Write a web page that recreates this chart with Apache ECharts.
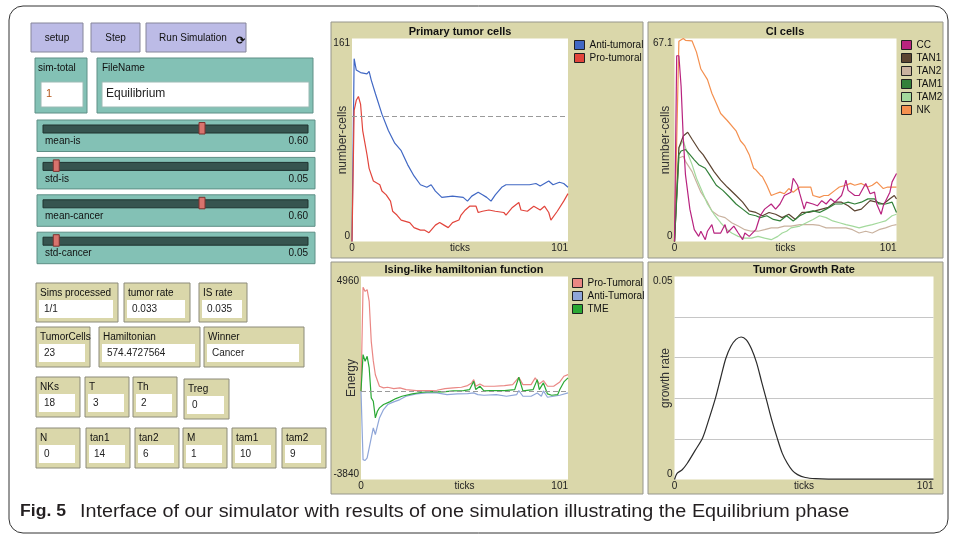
<!DOCTYPE html>
<html>
<head>
<meta charset="utf-8">
<script src="https://cdn.jsdelivr.net/npm/echarts@6/dist/echarts.min.js"></script>
<style>
  html, body { margin: 0; padding: 0; background: #fff; }
  #chart { width: 956px; height: 535px; }
</style>
</head>
<body>
<div id="chart"></div>
<script>
// Primary tumor cells
const antiTicks = [0, 1, 2, 4, 7, 8, 9, 11, 14, 17, 20, 23, 26, 29, 32, 35, 37, 39, 42, 47, 52, 54, 56, 59, 61, 63, 65, 67, 70, 72, 77, 83, 86, 88, 92, 94, 97, 99, 101];
const antiCells = [0, 145, 136, 134, 133, 135, 128, 117, 101, 88, 78, 72, 61, 52, 45, 43, 45, 40, 35, 36, 35, 32, 36, 39, 37, 35, 32, 37, 43, 45, 45, 45, 46, 44, 48, 45, 47, 46, 43];
const proTicks = [0, 1, 2, 3, 4, 5, 7, 8, 10, 13, 14, 16, 18, 19, 21, 23, 25, 27, 29, 32, 34, 36, 39, 41, 43, 45, 47, 50, 51, 53, 55, 58, 59, 61, 64, 67, 71, 72, 75, 78, 79, 82, 85, 88, 90, 92, 93, 96, 99, 101];
const proCells = [0, 104, 112, 115, 109, 88, 69, 58, 48, 45, 40, 37, 32, 24, 21, 17, 16, 15, 11, 9, 9, 7, 13, 15, 13, 11, 15, 17, 21, 25, 28, 28, 23, 24, 25, 24, 23, 21, 27, 31, 25, 24, 28, 25, 28, 23, 17, 24, 32, 38];
const tumorRef = 99;

// CI cells
const ccTicks = [0, 1, 2, 3, 4, 5, 7, 9, 11, 12, 14, 15, 17, 18, 21, 23, 24, 27, 29, 31, 32, 34, 37, 39, 41, 44, 46, 48, 50, 53, 54, 56, 57, 59, 60, 63, 65, 67, 69, 71, 73, 76, 77, 78, 79, 82, 84, 87, 89, 91, 92, 94, 95, 98, 99, 101];
const ccCells = [0, 61.4, 61.4, 51.3, 34, 22, 10.7, 3.9, 1.7, 3.4, 0.6, 3.4, 5.6, 2.8, 2.8, 5.6, 2.8, 5.1, 2.8, 0.6, 2.8, 1.7, 3.9, 8.5, 10.7, 12.4, 10.7, 12.4, 15.2, 16.3, 20.9, 18.6, 15.8, 10.7, 13, 12.4, 11.8, 13.5, 12.4, 14.1, 13, 15.2, 17.5, 20.3, 16.9, 15.2, 15.2, 19.2, 15.8, 16.3, 12.4, 9, 11.8, 16.3, 19.7, 22.5];
const tan1Ticks = [0, 2, 4, 6, 8, 11, 13, 15, 18, 21, 24, 28, 31, 34, 37, 40, 43, 46, 49, 52, 55, 58, 61, 64, 67, 70, 73, 76, 79, 82, 85, 89, 92, 95, 98, 100, 101];
const tan1Cells = [0, 31, 34.9, 36.1, 33.8, 30.4, 28.7, 26.5, 23.1, 20.3, 18, 15.2, 13, 10.1, 9.6, 8.5, 9.6, 9, 7.9, 9, 7.3, 9.6, 9.6, 10.1, 10.7, 11.3, 13, 13, 11.8, 10.1, 10.7, 13.5, 13, 12.4, 14.1, 15.2, 14.1];
const tan2Ticks = [0, 2, 4, 5, 8, 10, 12, 15, 17, 20, 23, 26, 29, 32, 35, 38, 41, 44, 47, 50, 53, 57, 60, 63, 66, 69, 72, 75, 78, 81, 84, 87, 90, 93, 96, 99, 101];
const tan2Cells = [0, 27.6, 28.2, 26.5, 23.1, 19.7, 16.3, 13, 10.1, 8.5, 7.9, 6.2, 5.1, 3.9, 3.4, 3.4, 3.9, 4.5, 4.5, 5.1, 5.1, 5.6, 5.6, 5.6, 5.3, 4.5, 4.5, 4.5, 4.5, 3.9, 2.8, 3.4, 2.8, 3.9, 4.5, 5.3, 5.6];
const tam1Ticks = [0, 2, 3, 5, 7, 9, 11, 14, 16, 19, 22, 25, 28, 31, 34, 37, 39, 42, 45, 48, 51, 54, 57, 60, 63, 66, 69, 73, 76, 79, 82, 85, 88, 91, 93, 96, 99, 101];
const tam1Cells = [0, 28.7, 29.9, 30.4, 28.7, 27, 25.4, 24.2, 22, 18.6, 16.9, 14.7, 12.4, 10.7, 9, 8.5, 7.9, 8.5, 7.3, 6.8, 8.5, 6.8, 8.5, 9.6, 10.1, 9.6, 10.7, 12.4, 12.4, 13, 12.4, 13, 14.1, 14.1, 12.4, 12.4, 13, 9.6];
const tam2Ticks = [0, 2, 4, 5, 8, 10, 12, 15, 18, 21, 24, 26, 29, 32, 35, 38, 41, 44, 47, 49, 51, 53, 57, 60, 63, 66, 69, 72, 75, 78, 81, 84, 87, 90, 93, 96, 99, 101];
const tam2Cells = [0, 31, 33.3, 31, 25.4, 20.9, 17.5, 12.4, 9, 6.2, 3.9, 2.8, 1.7, 1.1, 1.1, 1.7, 1.1, 0.6, 1.7, 2.8, 3.4, 4.5, 5.1, 6.2, 7.3, 8.5, 7.9, 6.8, 6.2, 5.6, 5.1, 4.5, 5.1, 5.6, 6.2, 6.8, 8.5, 9];
const nkTicks = [0, 2, 4, 5, 8, 10, 12, 15, 17, 19, 21, 24, 28, 30, 32, 34, 36, 37, 39, 40, 42, 44, 46, 48, 50, 52, 54, 57, 60, 62, 63, 66, 68, 70, 73, 75, 78, 80, 82, 85, 88, 90, 92, 95, 97, 99, 101];
const nkCells = [0, 66.2, 67.1, 66.5, 66.3, 62.6, 57, 53.5, 49, 45.7, 42.3, 40, 36.6, 33.3, 31.6, 28.7, 24.2, 23.7, 22, 21.4, 18.6, 15.2, 15.8, 16.3, 15.8, 17.5, 16.3, 18, 18, 18, 15.2, 14.6, 15.2, 15.2, 16.9, 18, 18.6, 19.2, 18.6, 19.2, 18, 18.6, 19.7, 17.5, 18, 18, 18];

// Ising-like hamiltonian function
const proHTicks = [0, 1, 2, 3, 4, 5, 6, 7, 9, 11, 13, 16, 19, 22, 27, 32, 37, 41, 45, 49, 52, 54, 55, 56, 58, 60, 65, 70, 74, 77, 79, 83, 85, 87, 89, 91, 94, 97, 99, 101];
const proHEnergy = [0, 4490, 4315, 4387, 3880, 2150, 1300, 700, 202, 130, 159, 101, 130, 58, 14, 14, 29, 101, 130, 159, 231, 346, 490, 202, 303, 202, 202, 231, 274, 592, 274, 274, 563, 303, 447, 202, 202, 390, 635, 707];
const antiHTicks = [0, 1, 2, 3, 4, 5, 6, 7, 8, 9, 11, 13, 16, 19, 22, 27, 32, 37, 42, 47, 52, 55, 57, 60, 66, 71, 76, 77, 79, 83, 86, 88, 89, 91, 94, 97, 101];
const antiHEnergy = [0, -2980, -3016, -2900, -2468, -2035, -1600, -1890, -1530, -1170, -808, -591, -476, -375, -231, -130, -87, -87, -159, -130, -115, -87, -159, -188, -159, -231, -159, 14, -231, -231, -87, -231, 0, -274, -231, -188, -87];
const tmeTicks = [0, 1, 2, 3, 4, 5, 6, 7, 8, 9, 11, 14, 17, 20, 25, 30, 35, 40, 45, 50, 53, 55, 56, 58, 60, 63, 70, 75, 77, 79, 84, 86, 87, 89, 91, 93, 96, 97, 99, 101];
const tmeEnergy = [0, 1573, 1284, 1500, 996, -303, -447, -1168, -880, -736, -591, -476, -332, -231, -130, -58, -29, -43, 0, 14, 58, 418, 58, 202, 0, 14, 14, 58, 592, 0, 58, 490, 58, 346, -130, -188, -159, 58, 390, 563];

// Tumor growth rate
const growthTicks = [0, 1, 3, 5, 8, 11, 13, 16, 18, 20, 22, 24, 26, 28, 30, 32, 34, 36, 38, 40, 42, 44, 46, 48, 51, 55, 60, 70, 101];
const growthRate = [0, 0.0015, 0.0024, 0.004, 0.0071, 0.0103, 0.014, 0.0201, 0.025, 0.0298, 0.0328, 0.0345, 0.0351, 0.0344, 0.0322, 0.0288, 0.024, 0.0193, 0.0145, 0.0103, 0.0065, 0.004, 0.0022, 0.0012, 0.0005, 0.0002, 0.0001, 0.0001, 0.0001];

// interface widgets
const buttonNames = ['setup', 'Step', 'Run Simulation'];
const sliderNames = ['mean-is', 'std-is', 'mean-cancer', 'std-cancer'];
const sliderValues = [0.6, 0.05, 0.6, 0.05];
const monitorNames = ['Sims processed', 'tumor rate', 'IS rate', 'TumorCells', 'Hamiltonian', 'Winner', 'NKs', 'T', 'Th', 'Treg', 'N', 'tan1', 'tan2', 'M', 'tam1', 'tam2'];
const monitorValues = ['1/1', '0.033', '0.035', '23', '574.4727564', 'Cancer', '18', '3', '2', '0', '0', '14', '6', '1', '10', '9'];

const FONT = '"Liberation Sans", Arial, sans-serif';
const pts = (xs, ys) => xs.map((x, i) => [x, ys[i]]);

const ui = [];
const box = (x, y, w, h, fill, stroke, z) => ui.push({
  type: 'rect', z: z || 0, shape: { x, y, width: w, height: h },
  style: { fill, stroke, lineWidth: 1 },
});
const txt = (x, y, text, size, color, align, weight, sx) => ui.push({
  type: 'text', z: 1, x, y, scaleX: sx || 1,
  style: { text, font: `${weight || 'normal'} ${size}px ${FONT}`, fill: color, align: align || 'left', verticalAlign: 'middle' },
});

// outer frame and plot panels
ui.push({ type: 'rect', z: -2, shape: { x: 9, y: 6, width: 939, height: 527, r: 14 }, style: { fill: 'none', stroke: '#333', lineWidth: 1 } });
box(331, 22, 312, 236, '#dad7aa', '#96968c', -1);
box(648, 22, 295, 236, '#dad7aa', '#96968c', -1);
box(331, 262, 312, 232, '#dad7aa', '#96968c', -1);
box(648, 262, 295, 232, '#dad7aa', '#96968c', -1);

// buttons
[[31, 23, 52, 29], [91, 23, 49, 29], [146, 23, 100, 29]].forEach(([x, y, w, h], i) => {
  box(x, y, w, h, '#bcbbe6', '#86869a');
  txt(i === 2 ? x + 47 : x + w / 2, y + h / 2 + 1, buttonNames[i], 10, '#111', 'center');
});
txt(240, 41, '\u27F3', 11, '#111', 'center', 'bold');

// inputs
box(35, 58, 52, 55, '#83c1b5', '#5e8f86');
txt(38, 68, 'sim-total', 10, '#111');
box(41, 82, 42, 25, '#fff', '#9bbab4');
txt(46, 94, '1', 11, '#b4571c');
box(97, 58, 216, 55, '#83c1b5', '#5e8f86');
txt(102, 68, 'FileName', 10, '#111');
box(102, 82, 207, 25, '#fff', '#9bbab4');
txt(106, 94, 'Equilibrium', 12, '#222');

// sliders
sliderNames.forEach((name, i) => {
  const y = 120 + i * 37.4;
  box(37, y, 278, 31.5, '#83c1b5', '#5e8f86');
  box(43, y + 5, 265, 8, '#36544f', '#1e322f');
  const cx = 43 + sliderValues[i] * 265;
  box(cx - 3, y + 2.5, 6, 11.5, '#d8736d', '#7d3330');
  txt(45, y + 21.5, name, 10, '#111');
  txt(308, y + 21.5, sliderValues[i].toFixed(2), 10, '#111', 'right');
});

// monitors
const monitorBoxes = [[36, 283, 82, 39], [124, 283, 66, 39], [199, 283, 48, 39], [36, 327, 54, 40], [99, 327, 101, 40], [204, 327, 100, 40],
  [36, 377, 44, 40], [85, 377, 44, 40], [133, 377, 44, 40], [184, 379, 45, 40],
  [36, 428, 44, 40], [86, 428, 44, 40], [135, 428, 44, 40], [183, 428, 44, 40], [232, 428, 44, 40], [282, 428, 44, 40]];
monitorBoxes.forEach(([x, y, w, h], i) => {
  box(x, y, w, h, '#dad7aa', '#8c8b7a');
  txt(x + 4, y + 10, monitorNames[i], 10, '#111');
  box(x + 3, y + 17, w - 8, 18, '#fff', 'none');
  txt(x + 8, y + 26, monitorValues[i], 10, '#222');
});

// caption
txt(20, 512, 'Fig. 5', 16, '#231f20', 'left', 'bold', 1.1);
txt(80, 512, 'Interface of our simulator with results of one simulation illustrating the Equilibrium phase', 18, '#231f20', 'left', 'normal', 1.1);

const xAxisFor = (gridIndex) => ({
  type: 'value', gridIndex, min: 0, max: 101,
  name: 'ticks', nameLocation: 'middle', nameGap: 2, nameMoveOverlap: false,
  nameTextStyle: { fontSize: 10, color: '#222', fontFamily: FONT, verticalAlign: 'top' },
  axisLine: { show: false }, axisTick: { show: false }, splitLine: { show: false },
  axisLabel: { customValues: [0, 101], fontSize: 10, color: '#222', fontFamily: FONT, margin: 2, alignMaxLabel: 'right' },
});
const yAxisFor = (gridIndex, name, min, max, extra) => Object.assign({
  type: 'value', gridIndex, min, max, name, nameLocation: 'middle', nameGap: 3, nameMoveOverlap: false,
  nameTextStyle: { fontSize: 12, color: '#333', fontFamily: FONT },
  axisLine: { show: false }, axisTick: { show: false }, splitLine: { show: false },
  axisLabel: {
    customValues: [min, max], fontSize: 10, color: '#222', fontFamily: FONT, margin: 2,
    formatter: (v) => String(v),
    verticalAlignMinLabel: 'bottom', verticalAlignMaxLabel: 'top',
  },
}, extra);

const line = (name, color, x, y, data, more) => Object.assign({
  name, type: 'line', xAxisIndex: x, yAxisIndex: y, data, color,
  showSymbol: false, lineStyle: { width: 1.2, color }, emphasis: { disabled: true },
}, more);
const refLine = (value) => ({
  silent: true, symbol: 'none', label: { show: false },
  lineStyle: { color: '#9a9a9a', type: [5, 3], width: 1 }, data: [{ yAxis: value }],
});

const legendBase = {
  orient: 'vertical', icon: 'rect', itemWidth: 10, itemHeight: 9, itemGap: 3, padding: 0,
  selectedMode: false, textStyle: { fontSize: 10, color: '#111', fontFamily: FONT },
  itemStyle: { borderColor: '#222', borderWidth: 1 },
};
const titleBase = { textAlign: 'center', padding: 0, textStyle: { fontSize: 11, fontWeight: 'bold', color: '#111', fontFamily: FONT } };

const chart = echarts.init(document.getElementById('chart'));
chart.setOption({
  animation: false,
  title: [
    Object.assign({ text: 'Primary tumor cells', left: 460, top: 26 }, titleBase),
    Object.assign({ text: 'CI cells', left: 785, top: 26 }, titleBase),
    Object.assign({ text: 'Ising-like hamiltonian function', left: 464, top: 264 }, titleBase),
    Object.assign({ text: 'Tumor Growth Rate', left: 804, top: 264 }, titleBase),
  ],
  legend: [
    Object.assign({ data: ['Anti-tumoral', 'Pro-tumoral'], left: 574, top: 40 }, legendBase),
    Object.assign({ data: ['CC', 'TAN1', 'TAN2', 'TAM1', 'TAM2', 'NK'], left: 901, top: 40 }, legendBase),
    Object.assign({ data: ['Pro-Tumoral', 'Anti-Tumoral', 'TME'], left: 572, top: 278 }, legendBase),
  ],
  grid: [
    { left: 352, top: 38.5, width: 216, height: 203, show: true, backgroundColor: '#fff', borderWidth: 0 },
    { left: 674.5, top: 38.5, width: 222, height: 203, show: true, backgroundColor: '#fff', borderWidth: 0 },
    { left: 361, top: 276.5, width: 207, height: 203, show: true, backgroundColor: '#fff', borderWidth: 0 },
    { left: 674.5, top: 276.5, width: 259, height: 203, show: true, backgroundColor: '#fff', borderWidth: 0 },
  ],
  xAxis: [xAxisFor(0), xAxisFor(1), xAxisFor(2), xAxisFor(3)],
  yAxis: [
    yAxisFor(0, 'number-cells', 0, 161),
    yAxisFor(1, 'number-cells', 0, 67.1),
    yAxisFor(2, 'Energy', -3840, 4960),
    yAxisFor(3, 'growth rate', 0, 0.05, {
      interval: 0.01,
      splitLine: { show: true, showMinLine: false, showMaxLine: false, lineStyle: { color: '#c6c6c6', width: 1 } },
    }),
  ],
  graphic: { elements: ui },
  series: [
    line('Anti-tumoral', '#4168c4', 0, 0, pts(antiTicks, antiCells), { markLine: refLine(tumorRef) }),
    line('Pro-tumoral', '#e2453c', 0, 0, pts(proTicks, proCells)),
    line('NK', '#f4904f', 1, 1, pts(nkTicks, nkCells)),
    line('TAN2', '#c9b29f', 1, 1, pts(tan2Ticks, tan2Cells)),
    line('TAM2', '#a3d99c', 1, 1, pts(tam2Ticks, tam2Cells)),
    line('TAN1', '#5c4431', 1, 1, pts(tan1Ticks, tan1Cells)),
    line('TAM1', '#33803a', 1, 1, pts(tam1Ticks, tam1Cells)),
    line('CC', '#b8237f', 1, 1, pts(ccTicks, ccCells)),
    line('Anti-Tumoral', '#8fa6d8', 2, 2, pts(antiHTicks, antiHEnergy), { markLine: refLine(0) }),
    line('Pro-Tumoral', '#ea8784', 2, 2, pts(proHTicks, proHEnergy)),
    line('TME', '#2aa834', 2, 2, pts(tmeTicks, tmeEnergy)),
    line('growth', '#2b2b2b', 3, 3, pts(growthTicks, growthRate), { smooth: 0.3 }),
  ],
});
</script>
</body>
</html>
